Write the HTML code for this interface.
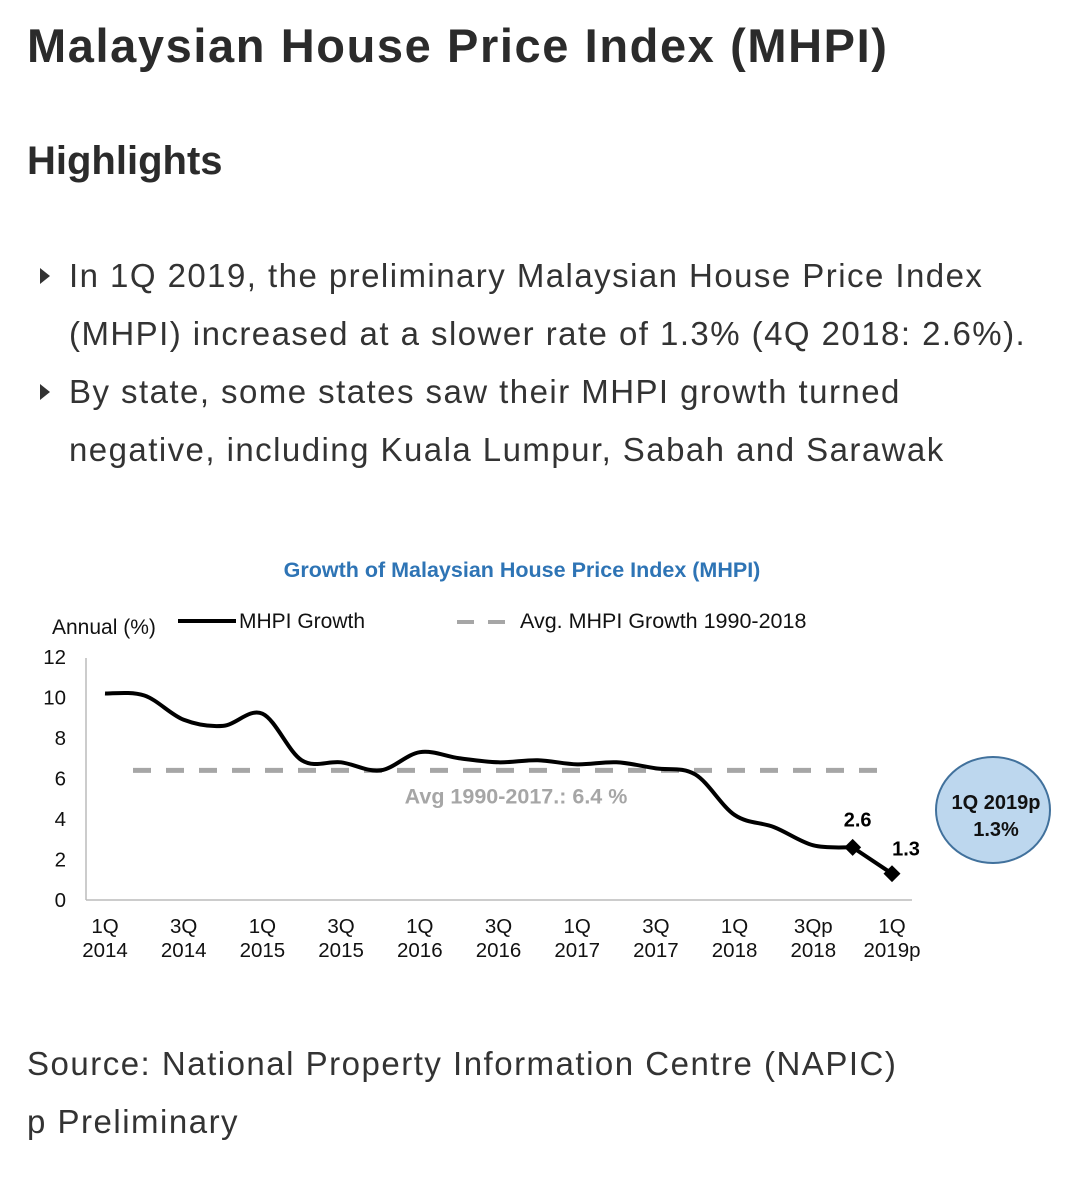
<!DOCTYPE html>
<html><head><meta charset="utf-8">
<style>
body{margin:0;width:1080px;height:1187px;background:#fff;font-family:"Liberation Sans",sans-serif;color:#222;position:relative;overflow:hidden}
.t{position:absolute;left:27px;margin:0}
h1{top:18px;font-size:47px;font-weight:bold;color:#2b2b2b;letter-spacing:1.6px}
h2{top:139px;font-size:40px;font-weight:bold;color:#2b2b2b}
.b{position:absolute;left:69px;font-size:33px;color:#333;line-height:58px;letter-spacing:1.45px;white-space:nowrap}
.tri{position:absolute;left:40px;width:0;height:0;border-top:8px solid transparent;border-bottom:8px solid transparent;border-left:10px solid #333}
.src{position:absolute;left:27px;font-size:33px;color:#333;letter-spacing:1.5px}
</style></head><body>
<h1 class="t">Malaysian House Price Index (MHPI)</h1>
<h2 class="t">Highlights</h2>
<div class="tri" style="top:268px"></div>
<div class="b" style="top:247px">In 1Q 2019, the preliminary Malaysian House Price Index<br>(MHPI) increased at a slower rate of 1.3% (4Q 2018: 2.6%).</div>
<div class="tri" style="top:384px"></div>
<div class="b" style="top:363px">By state, some states saw their MHPI growth turned<br>negative, including Kuala Lumpur, Sabah and Sarawak</div>
<svg id="chart" style="position:absolute;left:0;top:540px" width="1080" height="440"></svg>
<div class="src" style="top:1045px">Source: National Property Information Centre (NAPIC)</div>
<div class="src" style="top:1103px">p Preliminary</div>
<script>
const categories=["1Q 2014","2Q 2014","3Q 2014","4Q 2014","1Q 2015","2Q 2015","3Q 2015","4Q 2015","1Q 2016","2Q 2016","3Q 2016","4Q 2016","1Q 2017","2Q 2017","3Q 2017","4Q 2017","1Q 2018","2Q 2018","3Q 2018","4Q 2018","1Q 2019p"];
const growth=[10.2,10.1,8.9,8.6,9.2,6.9,6.8,6.4,7.3,7.0,6.8,6.9,6.7,6.8,6.5,6.2,4.2,3.6,2.7,2.6,1.3];
const avgGrowth=6.4;
const yTicks=[0,2,4,6,8,10,12];
const xTickLabels=[["1Q","2014"],["3Q","2014"],["1Q","2015"],["3Q","2015"],["1Q","2016"],["3Q","2016"],["1Q","2017"],["3Q","2017"],["1Q","2018"],["3Qp","2018"],["1Q","2019p"]];
const svg=document.getElementById('chart');const NS='http://www.w3.org/2000/svg';
const OY=540;
const x=i=>105+i*(892-105)/(categories.length-1);
const y=v=>900-OY-v*(900-657)/12;
function mk(t,a,txt){const e=document.createElementNS(NS,t);for(const k in a)e.setAttribute(k,a[k]);if(txt!==undefined)e.textContent=txt;svg.appendChild(e);return e;}
let e;
e=mk('text',{x:522,y:37,'text-anchor':'middle','font-size':21.5,'font-weight':'bold',fill:'#2e74b5'},'Growth of Malaysian House Price Index (MHPI)');

e=mk('text',{x:52,y:94,'font-size':21,fill:'#111'},'Annual (%)');

e=mk('line',{x1:178,y1:81,x2:236,y2:81,stroke:'#000','stroke-width':4});

e=mk('text',{x:239,y:88,'font-size':21,fill:'#111'},'MHPI Growth');

e=mk('line',{x1:457,y1:82,x2:512,y2:82,stroke:'#a6a6a6','stroke-width':4,'stroke-dasharray':'17 14'});

e=mk('text',{x:520,y:88,'font-size':21.5,fill:'#111'},'Avg. MHPI Growth 1990-2018');

e=mk('line',{x1:86,y1:118,x2:86,y2:y(0),stroke:'#bbb','stroke-width':1.5});

e=mk('line',{x1:86,y1:y(0),x2:912,y2:y(0),stroke:'#bbb','stroke-width':1.5});

yTicks.forEach(v=>{const t=mk('text',{x:66,y:y(v)+7,'text-anchor':'end','font-size':20.5,fill:'#111'},String(v));
});
xTickLabels.forEach((l,k)=>{const g=mk('text',{x:x(k*2),y:393,'text-anchor':'middle','font-size':20.5,fill:'#111'});

l.forEach((s,j)=>{const ts=document.createElementNS(NS,'tspan');ts.setAttribute('x',x(k*2));ts.setAttribute('dy',j?24:0);ts.textContent=s;g.appendChild(ts);});});
e=mk('line',{x1:x(0)+28,y1:y(avgGrowth),x2:x(categories.length-1)-14,y2:y(avgGrowth),stroke:'#a6a6a6','stroke-width':5,'stroke-dasharray':'18 15'});

e=mk('text',{x:516,y:y(avgGrowth)+33,'text-anchor':'middle','font-size':21.5,'font-weight':'bold',fill:'#a6a6a6'},'Avg 1990-2017.: '+avgGrowth+' %');

const P=growth.map((v,i)=>[x(i),y(v)]);
const last=P.length-2;
let d='M'+P[0][0]+' '+P[0][1];
for(let i=0;i<last;i++){const p0=P[Math.max(i-1,0)],p1=P[i],p2=P[i+1],p3=P[Math.min(i+2,last)];
d+=` C${p1[0]+(p2[0]-p0[0])/6} ${p1[1]+(p2[1]-p0[1])/6} ${p2[0]-(p3[0]-p1[0])/6} ${p2[1]-(p3[1]-p1[1])/6} ${p2[0]} ${p2[1]}`;}
d+=` L${P[last+1][0]} ${P[last+1][1]}`;
e=mk('path',{d:d,fill:'none',stroke:'#000','stroke-width':4,'stroke-linejoin':'round'});

[last,last+1].forEach((i,k)=>{const [px,py]=P[i];
const m=mk('rect',{x:px-6,y:py-6,width:12,height:12,fill:'#000',transform:`rotate(45 ${px} ${py})`});

const t=mk('text',{x:k?px+14:px+5,y:k?py-18:py-21,'text-anchor':'middle','font-size':20,'font-weight':'bold',fill:'#000'},String(growth[i]));
});
e=mk('ellipse',{cx:993,cy:270,rx:57,ry:53,fill:'#bdd7ee',stroke:'#41719c','stroke-width':2});

e=mk('text',{x:996,y:269,'text-anchor':'middle','font-size':20,'font-weight':'bold',fill:'#111'},'1Q 2019p');

e=mk('text',{x:996,y:296,'text-anchor':'middle','font-size':20,'font-weight':'bold',fill:'#111'},growth[growth.length-1]+'%');

</script>
</body></html>
